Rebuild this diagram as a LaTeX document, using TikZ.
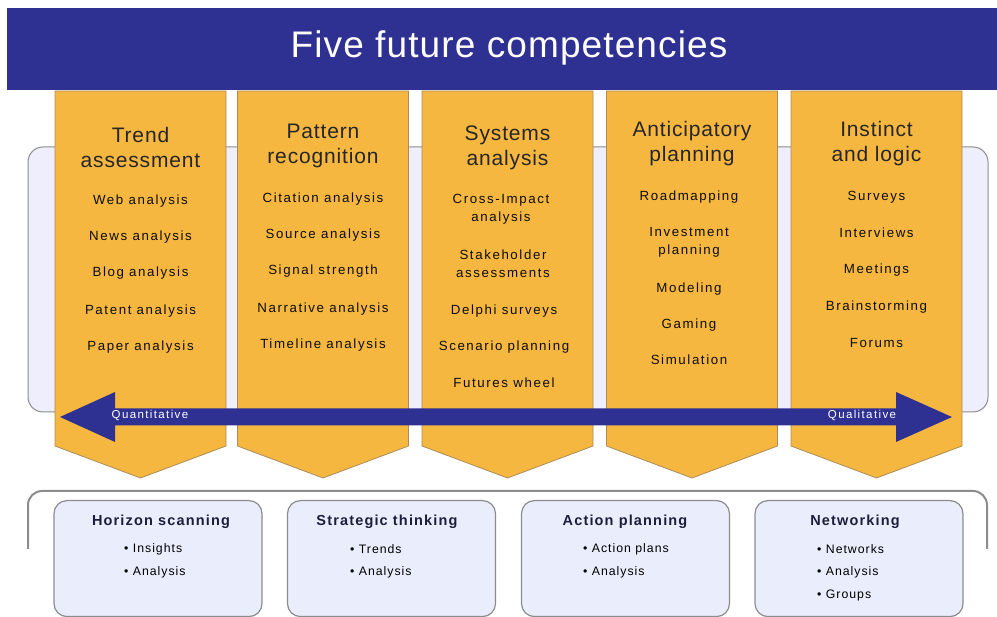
\documentclass[tikz,border=0pt]{standalone}
\usepackage{fontspec}
\setmainfont{Liberation Sans}
\newfontfamily\itemfont[LetterSpace=12]{Liberation Sans}
\newfontfamily\headfont[LetterSpace=4]{Liberation Sans}
\newfontfamily\titlefont[LetterSpace=3]{Liberation Sans}
\newfontfamily\boxfont[LetterSpace=8]{Liberation Sans}
\definecolor{navy}{RGB}{46,49,146}
\definecolor{colorange}{RGB}{246,183,64}
\definecolor{coledge}{RGB}{170,140,90}
\definecolor{lav}{RGB}{238,238,252}
\definecolor{boxfill}{RGB}{234,238,252}
\definecolor{bordergray}{RGB}{140,140,140}
\begin{document}
\begin{tikzpicture}[x=1pt,y=-1pt,
  colshape/.style={fill=colorange,draw=coledge,line width=0.8pt},
  itemtext/.style={font=\itemfont\fontsize{13.3}{18}\selectfont,text=black!95,align=center,inner sep=0pt},
  headtext/.style={font=\headfont\fontsize{21}{25}\selectfont,text=black!85,align=center,inner sep=0pt},
  bbox/.style={draw=bordergray,fill=boxfill,line width=1.2pt,rounded corners=13pt},
  btitle/.style={font=\boxfont\bfseries\fontsize{14.5}{17}\selectfont,text={rgb,255:red,30;green,30;blue,60},inner sep=0pt},
  bitem/.style={font=\boxfont\fontsize{12.3}{14}\selectfont,text=black,anchor=west,inner sep=0pt},
  arrowlabel/.style={font=\itemfont\fontsize{11.5}{13}\selectfont,text=white,inner sep=0pt}
]
\useasboundingbox (0,0) rectangle (997,617);
% title bar
\fill[navy] (7,8) rectangle (997,90);
\node[font=\titlefont\fontsize{37}{40}\selectfont,text=white,inner sep=0pt] (title) at (509,48) {Five future competencies};
% lavender back panel
\draw[fill=lav,draw=bordergray,line width=1pt,rounded corners=15pt] (28,147) rectangle (988,412);
% columns
\foreach \cx in {140.5,323,507.5,692,876.5}{
  \draw[colshape] (\cx-85.5,91) -- (\cx+85.5,91) -- (\cx+85.5,446) -- (\cx,478) -- (\cx-85.5,446) -- cycle;
}
% column headers
\node[headtext] (h1) at (140.5,147.5) {Trend\\assessment};
\node[headtext] (h2) at (323,145.5) {Pattern\\recognition};
\node[headtext] (h3) at (507.5,147.5) {Systems\\analysis};
\node[headtext] (h4) at (692,143.5) {Anticipatory\\planning};
\node[headtext] (h5) at (876.5,143.5) {Instinct\\and logic};
% column 1 items
\node[itemtext] (a1) at (140.5,201) {Web analysis};
\node[itemtext] (a2) at (140.5,237) {News analysis};
\node[itemtext] (a3) at (140.5,273) {Blog analysis};
\node[itemtext] (a4) at (140.5,311) {Patent analysis};
\node[itemtext] (a5) at (140.5,347) {Paper analysis};
% column 2 items
\node[itemtext] (p1) at (323,199) {Citation analysis};
\node[itemtext] (p2) at (323,235) {Source analysis};
\node[itemtext] (p3) at (323,271) {Signal strength};
\node[itemtext] (p4) at (323,309) {Narrative analysis};
\node[itemtext] (p5) at (323,345) {Timeline analysis};
% column 3 items
\node[itemtext] (s1) at (501,209.5) {Cross-Impact\\analysis};
\node[itemtext] (s2) at (503,264) {Stakeholder\\assessments};
\node[itemtext] (s3) at (504,311) {Delphi surveys};
\node[itemtext] (s4) at (504,347) {Scenario planning};
\node[itemtext] (s5) at (504,383) {Futures wheel};
% column 4 items
\node[itemtext] (n1) at (689,197) {Roadmapping};
\node[itemtext] (n2) at (689,242) {Investment\\planning};
\node[itemtext] (n3) at (689,289) {Modeling};
\node[itemtext] (n4) at (689,325) {Gaming};
\node[itemtext] (n5) at (689,360) {Simulation};
% column 5 items
\node[itemtext] (l1) at (876.5,197) {Surveys};
\node[itemtext] (l2) at (876.5,233) {Interviews};
\node[itemtext] (l3) at (876.5,270) {Meetings};
\node[itemtext] (l4) at (876.5,307) {Brainstorming};
\node[itemtext] (l5) at (876.5,343) {Forums};
% double arrow
\coordinate (qleft) at (60,417);
\coordinate (qright) at (952,417);
\fill[navy] (qleft) -- (115,392) -- (115,408.5) -- (896,408.5) -- (896,392) -- (qright) -- (896,442) -- (896,425.5) -- (115,425.5) -- (115,442) -- cycle;
\node[arrowlabel] (quant) at (150,415) {Quantitative};
\node[arrowlabel] (qual) at (862,415) {Qualitative};
% bottom bracket
\draw[bordergray,line width=2pt,rounded corners=14pt] (28,549) -- (28,491) -- (987,491) -- (987,549);
% bottom boxes
\node[bbox,minimum width=208pt,minimum height=116pt,anchor=north] (b1) at (158,500) {};
\node[bbox,minimum width=208pt,minimum height=116pt,anchor=north] (b2) at (391.5,500) {};
\node[bbox,minimum width=208pt,minimum height=116pt,anchor=north] (b3) at (625.5,500) {};
\node[bbox,minimum width=208pt,minimum height=116pt,anchor=north] (b4) at (859,500) {};
\node[btitle] (t1) at (161,522) {Horizon scanning};
\node[btitle] (t2) at (387,522) {Strategic thinking};
\node[btitle] (t3) at (625,522) {Action planning};
\node[btitle] (t4) at (855,522) {Networking};
\node[bitem] (u11) at (124,549) {• Insights};
\node[bitem] (u12) at (124,572) {• Analysis};
\node[bitem] (u21) at (350,549) {• Trends};
\node[bitem] (u22) at (350,572) {• Analysis};
\node[bitem] (u31) at (583,549) {• Action plans};
\node[bitem] (u32) at (583,572) {• Analysis};
\node[bitem] (u41) at (817,549) {• Networks};
\node[bitem] (u42) at (817,572) {• Analysis};
\node[bitem] (u43) at (817,595) {• Groups};
\end{tikzpicture}
\end{document}
